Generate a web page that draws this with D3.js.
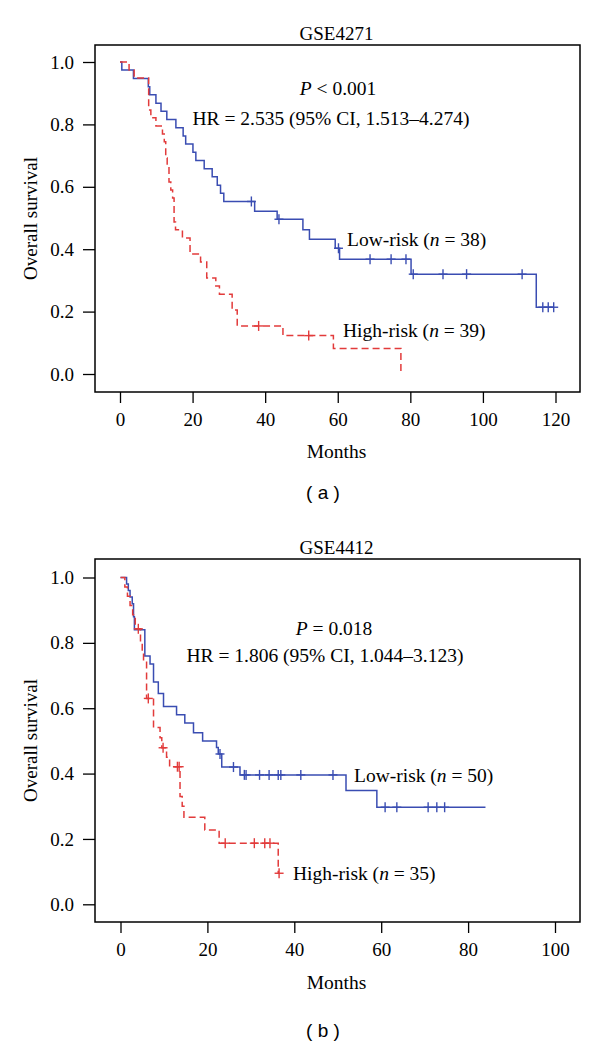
<!DOCTYPE html>
<html>
<head>
<meta charset="utf-8">
<script src="https://cdn.jsdelivr.net/npm/d3@7"></script>
<style>
  body { margin: 0; background: #fff; }
  text { font-family: "Liberation Serif", "Times New Roman", serif; fill: #000; }
  .letter { font-family: "Liberation Sans", Arial, sans-serif; }
</style>
</head>
<body>
<script>
// GSE4271, low-risk group: event times (months) and survival after each step
const aLowTimes = [0.5, 3.7, 7.8, 8.2, 9.9, 11.3, 12.9, 15.4, 17.4, 18.1, 20.1, 20.9, 23.2, 25.4, 26.8, 27.7, 28.6,
                   37.1, 43.3, 50.4, 52.2, 59.3, 60.5, 80.2, 114.7];
const aLowSurv  = [0.974, 0.947, 0.921, 0.895, 0.868, 0.842, 0.816, 0.789, 0.763, 0.737, 0.711, 0.684, 0.658, 0.632, 0.605, 0.579, 0.553,
                   0.522, 0.496, 0.462, 0.432, 0.403, 0.368, 0.320, 0.214];
const aLowCensor = [36.2, 43.8, 60.2, 68.9, 74.7, 78.8, 80.8, 89, 95.5, 110.8, 116.5, 118, 119.5];
const aLowEnd = 119.5;

// GSE4271, high-risk group
const aHighTimes = [2.5, 3.9, 7.9, 8.5, 9.9, 11.7, 12.2, 12.6, 13.0, 13.5, 14.0, 14.5, 14.9, 15.3, 17.2, 19.3, 22.2,
                    23.9, 26.4, 27.4, 30.9, 32.3, 44.9, 58.8, 77.4];
const aHighSurv  = [0.974, 0.949, 0.846, 0.821, 0.795, 0.769, 0.744, 0.692, 0.667, 0.615, 0.590, 0.564, 0.487, 0.462, 0.436, 0.385, 0.359,
                    0.308, 0.282, 0.256, 0.205, 0.154, 0.123, 0.082, 0];
const aHighCensor = [38.2, 52.0];
const aHighEnd = 77.4;

// GSE4412, low-risk group
const bLowTimes = [1.4, 1.8, 2.2, 2.7, 3.0, 3.2, 5.6, 6.8, 7.6, 8.7, 9.9, 12.9, 14.8, 16.8, 18.9, 22.1, 22.5, 23.3, 27.5, 51.9, 59.0];
const bLowSurv  = [0.98, 0.96, 0.94, 0.92, 0.88, 0.84, 0.76, 0.735, 0.68, 0.645, 0.605, 0.58, 0.555, 0.525, 0.50, 0.48, 0.46, 0.42, 0.396, 0.348, 0.297];
const bLowCensor = [22.9, 26.0, 28.5, 28.9, 32.0, 34.2, 36.3, 36.9, 41.5, 48.9, 60.9, 63.6, 70.8, 72.8, 74.6];
const bLowEnd = 84;

// GSE4412, high-risk group
const bHighTimes = [1.0, 1.6, 2.2, 2.8, 3.4, 4.6, 5.0, 5.3, 6.0, 7.6, 9.1, 9.5, 10.6, 11.3, 13.7, 14.2, 14.6, 19.4, 22.7, 36.3];
const bHighSurv  = [0.971, 0.943, 0.914, 0.886, 0.843, 0.80, 0.771, 0.745, 0.63, 0.541, 0.51, 0.479, 0.45, 0.421, 0.33, 0.30, 0.266, 0.227, 0.187, 0.095];
const bHighCensor = [4.1, 6.4, 9.8, 13.1, 13.5, 24.1, 30.8, 33.2, 34.4, 36.5];
const bHighEnd = 36.5;

const xTicksA = [0, 20, 40, 60, 80, 100, 120];
const xTicksB = [0, 20, 40, 60, 80, 100];
const yTicks = [0, 0.2, 0.4, 0.6, 0.8, 1.0];

const blue = "#3a4db2", red = "#e23b3b";
const width = 600, height = 1046;

let svg = d3.select("body").append("svg")
            .attr("width", width)
            .attr("height", height);

const panels = [
  { title: "GSE4271", letter: "a", xMax: 120, xTicks: xTicksA,
    box: [95, 45, 580, 392], xr: [120, 555.5], yr: [374, 62],
    p: ["<", "0.001"], hr: "HR = 2.535 (95% CI, 1.513\u20134.274)",
    pPos: [338, 88], hrPos: [331, 118],
    low: { t: aLowTimes, s: aLowSurv, c: aLowCensor, end: aLowEnd, n: 38, pos: [347, 239] },
    high: { t: aHighTimes, s: aHighSurv, c: aHighCensor, end: aHighEnd, n: 39, pos: [343, 330] },
    monthsY: 451, letterY: 492 },
  { title: "GSE4412", letter: "b", xMax: 100, xTicks: xTicksB,
    box: [95, 559, 580, 922], xr: [120.5, 555], yr: [904.3, 577.5],
    p: ["=", "0.018"], hr: "HR = 1.806 (95% CI, 1.044\u20133.123)",
    pPos: [334, 628], hrPos: [325, 655],
    low: { t: bLowTimes, s: bLowSurv, c: bLowCensor, end: bLowEnd, n: 50, pos: [354, 775] },
    high: { t: bHighTimes, s: bHighSurv, c: bHighCensor, end: bHighEnd, n: 35, pos: [293, 873] },
    monthsY: 982, letterY: 1030 }
];

panels.forEach(function(p) {
  let g = svg.append("g");
  let [bx0, by0, bx1, by1] = p.box;
  let x = d3.scaleLinear().domain([0, p.xMax]).range(p.xr);
  let y = d3.scaleLinear().domain([0, 1]).range(p.yr);

  // axes
  let xa = g.append("g").attr("transform", "translate(0," + by1 + ")")
            .call(d3.axisBottom(x).tickValues(p.xTicks).tickSize(11).tickPadding(10));
  let ya = g.append("g").attr("transform", "translate(" + bx0 + ",0)")
            .call(d3.axisLeft(y).tickValues(yTicks).tickSize(12).tickPadding(9).tickFormat(d3.format(".1f")));
  [xa, ya].forEach(function(a) {
    a.select(".domain").remove();
    a.selectAll("line").attr("stroke", "#000").attr("stroke-width", 1.3);
    a.selectAll("text").style("font-family", '"Liberation Serif", "Times New Roman", serif')
     .style("font-size", "19px").attr("fill", "#000");
  });

  g.append("rect").attr("x", bx0).attr("y", by0)
   .attr("width", bx1 - bx0).attr("height", by1 - by0)
   .attr("fill", "none").attr("stroke", "#000").attr("stroke-width", 1.5);

  let line = d3.line().x(d => x(d[0])).y(d => y(d[1])).curve(d3.curveStepAfter);

  function drawCurve(k, color, dash) {
    let pts = [[0, 1]].concat(k.t.map((t, i) => [t, k.s[i]]));
    pts.push([k.end, k.s[k.s.length - 1]]);
    g.append("path").datum(pts).attr("d", line)
     .attr("fill", "none").attr("stroke", color).attr("stroke-width", 1.5)
     .attr("stroke-dasharray", dash);
    let bis = d3.bisector(d => d).right;
    let marks = g.append("g").selectAll("g").data(k.c).enter().append("g")
                 .attr("transform", function(c) {
                   let i = bis(k.t, c);
                   let s = i == 0 ? 1 : k.s[i - 1];
                   return "translate(" + x(c) + "," + y(s) + ")";
                 });
    marks.append("line").attr("x1", 0).attr("x2", 0).attr("y1", -5).attr("y2", 5)
         .attr("stroke", color).attr("stroke-width", 1.4);
    marks.append("line").attr("x1", -4.5).attr("x2", 4.5).attr("y1", 0).attr("y2", 0)
         .attr("stroke", color).attr("stroke-width", 1.4);
  }
  drawCurve(p.low, blue, null);
  drawCurve(p.high, red, "7,4");

  // texts
  g.append("text").attr("x", (bx0 + bx1) / 2 - 1).attr("y", by0 - 12)
   .attr("text-anchor", "middle").attr("dominant-baseline", "central")
   .style("font-size", "19px").text(p.title);

  g.append("text").attr("transform", "translate(30," + (by0 + by1) / 2 + ") rotate(-90)")
   .attr("text-anchor", "middle").attr("dominant-baseline", "central")
   .style("font-size", "19px").text("Overall survival");

  g.append("text").attr("x", (bx0 + bx1) / 2 - 1).attr("y", p.monthsY)
   .attr("text-anchor", "middle").attr("dominant-baseline", "central")
   .style("font-size", "19.5px").text("Months");

  g.append("text").attr("class", "letter").attr("x", 323).attr("y", p.letterY)
   .attr("text-anchor", "middle").attr("dominant-baseline", "central")
   .style("font-size", "19px").attr("xml:space", "preserve").text("( " + p.letter + " )");

  let pt = g.append("text").attr("x", p.pPos[0]).attr("y", p.pPos[1])
            .attr("text-anchor", "middle").attr("dominant-baseline", "central")
            .style("font-size", "19.5px");
  pt.append("tspan").style("font-style", "italic").text("P");
  pt.append("tspan").text(" " + p.p[0] + " " + p.p[1]);

  g.append("text").attr("x", p.hrPos[0]).attr("y", p.hrPos[1])
   .attr("text-anchor", "middle").attr("dominant-baseline", "central")
   .style("font-size", "19.5px").text(p.hr);

  [["Low-risk", p.low], ["High-risk", p.high]].forEach(function(l) {
    let t = g.append("text").attr("x", l[1].pos[0]).attr("y", l[1].pos[1])
             .attr("dominant-baseline", "central").style("font-size", "19.5px");
    t.append("tspan").text(l[0] + " (");
    t.append("tspan").style("font-style", "italic").text("n");
    t.append("tspan").text(" = " + l[1].n + ")");
  });
});
</script>
</body>
</html>
